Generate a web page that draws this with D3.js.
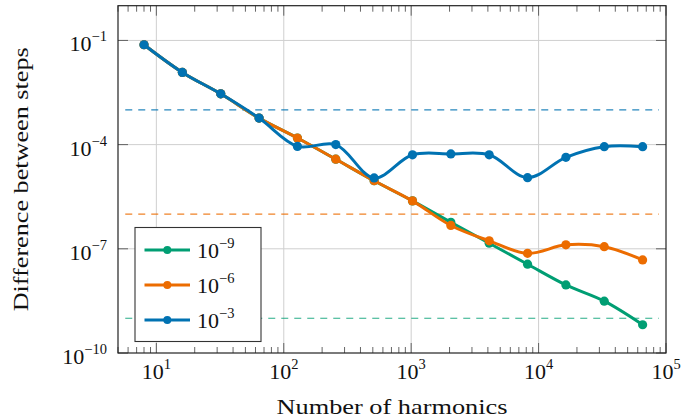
<!DOCTYPE html>
<html>
<head>
<meta charset="utf-8">
<script src="https://cdn.jsdelivr.net/npm/d3@7"></script>
<style>
  body { margin: 0; background: #fff; }
  svg { display: block; }
  text { font-family: "Liberation Serif", "DejaVu Serif", serif; fill: #111; }
</style>
</head>
<body>
<svg id="chart" width="696" height="419"></svg>
<script>
// harmonics count on x, step difference on y
var harmonics = [8, 16, 32, 64, 128, 256, 512, 1024, 2048, 4096, 8192, 16384, 32768, 65536];
var tol9 = [7.5e-2, 1.2e-2, 2.9e-3, 5.8e-4, 1.55e-4, 3.8e-5, 9.1e-6, 2.4e-6, 5.8e-7, 1.45e-7, 3.6e-8, 9.1e-9, 3.1e-9, 6.5e-10];
var tol6 = [7.5e-2, 1.2e-2, 2.9e-3, 5.8e-4, 1.55e-4, 3.8e-5, 9.1e-6, 2.4e-6, 4.7e-7, 1.7e-7, 7.4e-8, 1.3e-7, 1.15e-7, 4.8e-8];
var tol3 = [7.5e-2, 1.2e-2, 2.9e-3, 5.8e-4, 8.9e-5, 1.0e-4, 1.1e-5, 5.1e-5, 5.4e-5, 5.1e-5, 1.12e-5, 4.3e-5, 8.7e-5, 8.7e-5];
var seriesNames = ["−9", "−6", "−3"];
var seriesColors = ["#009e73", "#ec6c00", "#0072b2"];
var tolerances = [1e-9, 1e-6, 1e-3];
var dashExtent = [5.7, 88000];
var xTicks = [10, 100, 1000, 10000, 100000];
var xTickExp = ["1", "2", "3", "4", "5"];
var yTicks = [1e-1, 1e-4, 1e-7, 1e-10];
var yTickExp = ["−1", "−4", "−7", "−10"];

var series = [tol9, tol6, tol3].map(function(vals, i){
  return {
    name: seriesNames[i],
    color: seriesColors[i],
    tol: tolerances[i],
    pts: vals.map(function(v, j){ return { x: harmonics[j], y: v }; })
  };
});

var svg = d3.select('#chart');
var m = { left: 118, right: 30, top: 5.7, bottom: 66 };
var W = 696, H = 419;
var x = d3.scaleLog().domain([5, 1e5]).range([m.left, W - m.right]);
var y = d3.scaleLog().domain([1e-10, 1]).range([H - m.bottom, m.top]);
var x0 = x.range()[0], x1 = x.range()[1], y0 = y.range()[0], y1 = y.range()[1];

// grid
var grid = svg.append('g').attr('stroke', '#cfcfcf').attr('stroke-width', 1);
grid.selectAll('line.gx').data(xTicks.slice(0, 4)).enter().append('line')
  .attr('x1', function(d){ return x(d); }).attr('x2', function(d){ return x(d); })
  .attr('y1', y0).attr('y2', y1);
grid.selectAll('line.gy').data(yTicks.slice(0, 3)).enter().append('line')
  .attr('x1', x0).attr('x2', x1)
  .attr('y1', function(d){ return y(d); }).attr('y2', function(d){ return y(d); });

// ticks
var minor = [];
[1, 10, 100, 1000, 10000].forEach(function(dec){
  for (var k = 2; k <= 9; k++) {
    if (dec * k >= 5) minor.push(dec * k);
  }
});
var ticks = svg.append('g').attr('stroke', '#555').attr('stroke-width', 0.9);
[y0, y1].forEach(function(yy, s){
  var dir = s === 0 ? -1 : 1;
  ticks.selectAll(null).data(minor).enter().append('line')
    .attr('x1', function(d){ return x(d); }).attr('x2', function(d){ return x(d); })
    .attr('y1', yy).attr('y2', yy + dir * 6);
  ticks.selectAll(null).data(xTicks).enter().append('line')
    .attr('x1', function(d){ return x(d); }).attr('x2', function(d){ return x(d); })
    .attr('y1', yy).attr('y2', yy + dir * 10);
});
[x0, x1].forEach(function(xx, s){
  var dir = s === 0 ? 1 : -1;
  ticks.selectAll(null).data(yTicks).enter().append('line')
    .attr('x1', xx).attr('x2', xx + dir * 10)
    .attr('y1', function(d){ return y(d); }).attr('y2', function(d){ return y(d); });
});

// tolerance lines
svg.append('g').selectAll('line').data(series).enter().append('line')
  .attr('x1', x(dashExtent[0])).attr('x2', x(dashExtent[1]))
  .attr('y1', function(d){ return y(d.tol); }).attr('y2', function(d){ return y(d.tol); })
  .attr('stroke', function(d){ return d.color; })
  .attr('stroke-opacity', 0.85)
  .attr('stroke-width', 1.2)
  .attr('stroke-dasharray', '7,6');

// curves
var line = d3.line().curve(d3.curveCatmullRom.alpha(0.5))
  .x(function(d){ return x(d.x); }).y(function(d){ return y(d.y); });
var g = svg.append('g').selectAll('g.series').data(series).enter().append('g').attr('class', 'series');
g.append('path')
  .attr('d', function(d){ return line(d.pts); })
  .attr('fill', 'none')
  .attr('stroke', function(d){ return d.color; })
  .attr('stroke-width', 3)
  .attr('stroke-linejoin', 'round');
g.selectAll('circle').data(function(d){
  return d.pts.map(function(p){ return { x: p.x, y: p.y, color: d.color }; });
}).enter().append('circle')
  .attr('cx', function(d){ return x(d.x); })
  .attr('cy', function(d){ return y(d.y); })
  .attr('r', 4.6)
  .attr('fill', function(d){ return d.color; });

// frame
svg.append('rect').attr('x', x0).attr('y', y1).attr('width', x1 - x0).attr('height', y0 - y1)
  .attr('fill', 'none').attr('stroke', '#222').attr('stroke-width', 1.2);

// tick labels
var fs = 22, sfs = 14.5;
svg.append('g').selectAll('text').data(xTicks).enter().append('text')
  .attr('x', function(d){ return x(d); }).attr('y', y0 + 26)
  .attr('text-anchor', 'middle').attr('font-size', fs)
  .each(function(d, i){
    var t = d3.select(this);
    t.append('tspan').text('10');
    t.append('tspan').attr('dy', -10).attr('font-size', sfs).text(xTickExp[i]);
  });
svg.append('g').selectAll('text').data(yTicks).enter().append('text')
  .attr('x', x0 - 11).attr('y', function(d){ return y(d) + 11; })
  .attr('text-anchor', 'end').attr('font-size', fs)
  .each(function(d, i){
    var t = d3.select(this);
    t.append('tspan').text('10');
    t.append('tspan').attr('dy', -10).attr('font-size', sfs).text(yTickExp[i]);
  });

// axis titles
svg.append('text').attr('x', (x0 + x1) / 2).attr('y', 414)
  .attr('text-anchor', 'middle').attr('font-size', fs)
  .attr('textLength', 231).attr('lengthAdjust', 'spacingAndGlyphs')
  .text('Number of harmonics');
svg.append('text').attr('transform', 'translate(28,' + ((y0 + y1) / 2) + ') rotate(-90)')
  .attr('text-anchor', 'middle').attr('font-size', fs)
  .attr('textLength', 264).attr('lengthAdjust', 'spacingAndGlyphs')
  .text('Difference between steps');

// legend
var lg = svg.append('g').attr('transform', 'translate(135,227.5)');
lg.append('rect').attr('width', 126).attr('height', 114)
  .attr('fill', '#fff').attr('stroke', '#333').attr('stroke-width', 1.1);
var item = lg.selectAll('g.item').data(series).enter().append('g').attr('class', 'item')
  .attr('transform', function(d, i){ return 'translate(0,' + (22.5 + i * 35) + ')'; });
item.append('line').attr('x1', 9.5).attr('x2', 55)
  .attr('stroke', function(d){ return d.color; }).attr('stroke-width', 3);
item.append('circle').attr('cx', 32.3).attr('r', 4)
  .attr('fill', function(d){ return d.color; });
item.append('text').attr('x', 62).attr('y', 8).attr('font-size', fs)
  .each(function(d){
    var t = d3.select(this);
    t.append('tspan').text('10');
    t.append('tspan').attr('dy', -10).attr('font-size', sfs).text(d.name);
  });
</script>
</body>
</html>
